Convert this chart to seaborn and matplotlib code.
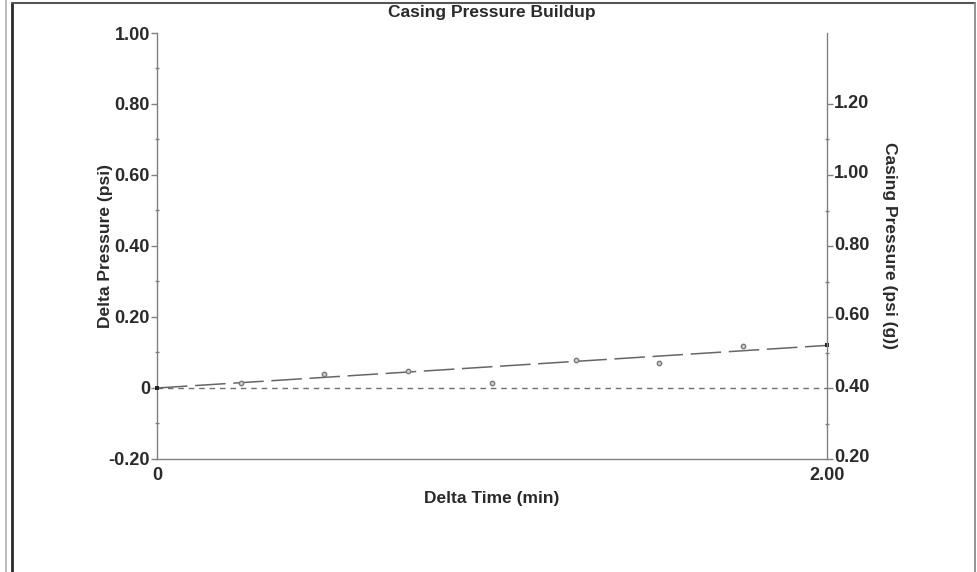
import numpy as np
import pandas as pd
import matplotlib
matplotlib.use("Agg")
import matplotlib.pyplot as plt
from matplotlib.lines import Line2D
from matplotlib.ticker import MultipleLocator, FixedLocator
from matplotlib.transforms import ScaledTranslation
import seaborn as sns

# data
delta_time = [0.0, 0.25, 0.5, 0.75, 1.0, 1.25, 1.5, 1.75, 2.0]
delta_pressure = [0.0, 0.013, 0.039, 0.047, 0.015, 0.079, 0.071, 0.117, 0.121]
trend_time = [0.0, 2.0]
trend_pressure = [0.0, 0.12]
zero_time = [0.0, 2.0]
zero_pressure = [0.0, 0.0]

left_ticks = [-0.2, 0, 0.2, 0.4, 0.6, 0.8, 1.0]
left_labels = ["-0.20", "0", "0.20", "0.40", "0.60", "0.80", "1.00"]
right_ticks = [0.2, 0.4, 0.6, 0.8, 1.0, 1.2]
right_labels = ["0.20", "0.40", "0.60", "0.80", "1.00", "1.20"]
x_ticks = [0, 2.0]
x_labels = ["0", "2.00"]

df = pd.DataFrame({"t": delta_time, "dp": delta_pressure})
trend = pd.DataFrame({"t": trend_time, "dp": trend_pressure})
zero = pd.DataFrame({"t": zero_time, "dp": zero_pressure})

sns.set_style("white")
plt.rcParams["font.family"] = ["Liberation Sans", "DejaVu Sans"]
plt.rcParams["font.weight"] = "bold"

txt = "#2a2a2a"
axc = "#808080"

fig = plt.figure(figsize=(9.78, 5.72), dpi=100)
ax = fig.add_axes([157 / 978, 1 - 459 / 572, 670 / 978, 426 / 572])

sns.lineplot(data=zero, x="t", y="dp", ax=ax, color="#707070", lw=1.0,
             linestyle=(0, (4, 3.5)))
sns.lineplot(data=trend, x="t", y="dp", ax=ax, color="#666666", lw=1.1,
             linestyle=(0, (20, 5)))
sns.scatterplot(data=df.iloc[1:-1], x="t", y="dp", ax=ax, s=10, marker="o",
                facecolor="#d0d0d0", edgecolor="#7a7a7a", linewidth=1.0, zorder=4)
sns.scatterplot(data=trend, x="t", y="dp", ax=ax, s=12, marker="s",
                color="#222222", linewidth=0, zorder=5, clip_on=False)

ax.set_xlim(0, 2.0)
ax.set_ylim(-0.2, 1.0)
ax.set_xticks(x_ticks)
ax.set_xticklabels(x_labels)
ax.xaxis.set_minor_locator(FixedLocator([1.0]))
ax.set_yticks(left_ticks)
ax.set_yticklabels(left_labels)
ax.yaxis.set_minor_locator(MultipleLocator(0.1))

for s in ["top", "right"]:
    ax.spines[s].set_visible(False)
for s in ["left", "bottom"]:
    ax.spines[s].set_color(axc)
    ax.spines[s].set_linewidth(1.0)

ax.tick_params(axis="y", which="major", direction="out", length=4, width=1,
               color=axc, labelsize=13, labelcolor=txt, pad=1)
ax.tick_params(axis="y", which="minor", direction="inout", length=3, width=1,
               color=axc)
ax.tick_params(axis="x", which="major", direction="out", length=2, width=1,
               color=axc, labelsize=13, labelcolor=txt, pad=4)
ax.tick_params(axis="x", which="minor", direction="inout", length=3, width=1,
               color=axc)

ax.set_xlabel("Delta Time (min)", fontsize=12.5, fontweight="bold", color=txt)
ax.xaxis.set_label_coords(0.5, -0.075)
ax.set_ylabel("Delta Pressure (psi)", fontsize=12.5, fontweight="bold", color=txt)
ax.yaxis.set_label_coords(-0.066, 0.5)
ax.set_title("Casing Pressure Buildup", fontsize=12.5, fontweight="bold",
             color=txt, y=1.037, pad=0)

# right axis: casing pressure
ax2 = ax.twinx()
ax2.set_ylim(0.2, 1.4)
ax2.set_yticks(right_ticks)
ax2.set_yticklabels(right_labels)
ax2.yaxis.set_minor_locator(FixedLocator([0.3, 0.5, 0.7, 0.9, 1.1]))
for s in ["top", "left", "bottom"]:
    ax2.spines[s].set_visible(False)
ax2.spines["right"].set_color(axc)
ax2.spines["right"].set_linewidth(1.0)
ax2.tick_params(axis="y", which="major", direction="out", length=4, width=1,
                color=axc, labelsize=13, labelcolor=txt, pad=1)
ax2.tick_params(axis="y", which="minor", direction="inout", length=3, width=1,
                color=axc)
shift = ScaledTranslation(0, 3 / 100, fig.dpi_scale_trans)
for lab in ax2.get_yticklabels():
    lab.set_transform(lab.get_transform() + shift)
ax2.set_ylabel("Casing Pressure (psi (g))", fontsize=12.5, fontweight="bold",
               color=txt, rotation=270, va="center")
ax2.yaxis.set_label_coords(1.094, 0.5)

# page frame
W, H = 978, 572
fig.add_artist(Line2D([6 / W, 6 / W], [0, 1], color="#b0b0b0", lw=1.2))
fig.add_artist(Line2D([12 / W, 12 / W], [0, 1 - 3 / H], color="#2a2a2a", lw=2.0))
fig.add_artist(Line2D([12 / W, 975 / W], [1 - 3 / H, 1 - 3 / H], color="#555555", lw=1.5))
fig.add_artist(Line2D([975 / W, 975 / W], [0, 1 - 3 / H], color="#8a8a8a", lw=1.3))

fig.savefig("out.png", dpi=100, facecolor="white")
